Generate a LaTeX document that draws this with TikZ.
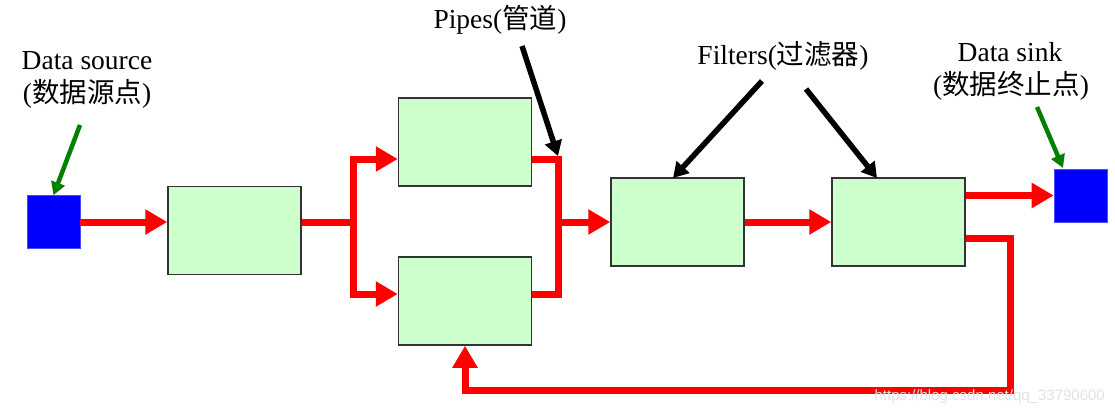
\documentclass[tikz,border=0pt]{standalone}
\usepackage{fontspec}
\setmainfont{Liberation Serif}
\newfontfamily\cjk{Noto Sans CJK SC}
\newfontfamily\wmfont{Liberation Sans}
\usetikzlibrary{arrows.meta}
\definecolor{boxfill}{HTML}{CCFFCC}
\definecolor{boxline}{HTML}{333333}
\definecolor{pipered}{HTML}{FF0000}
\definecolor{endblue}{HTML}{0000FF}
\definecolor{notegreen}{HTML}{007F00}
\definecolor{wmgray}{HTML}{E2E2E2}
\tikzset{
  filterbox/.style={draw=boxline, fill=boxfill, line width=1.5pt, minimum width=133pt, minimum height=88pt, inner sep=0pt},
  endpoint/.style={draw=endblue!70!white, fill=endblue, line width=0.6pt, minimum size=53pt, inner sep=0pt},
  pipeline/.style={draw=pipered, line width=7pt, line join=miter},
  pipe/.style={pipeline, -{Triangle[length=22pt,width=24pt]}},
  blackarrow/.style={draw=black, line width=5.5pt, -{Triangle[length=15pt,width=17pt]}},
  greenarrow/.style={draw=notegreen, line width=4.5pt, -{Triangle[length=13pt,width=14pt]}},
  label/.style={font=\fontsize{27.5}{30}\selectfont, inner sep=0pt, anchor=base},
}
\begin{document}
\begin{tikzpicture}[x=1pt,y=-1pt]
\useasboundingbox (0,0) rectangle (1115,413);

% endpoints and filters
\node[endpoint] (src) at (53.5,222) {};
\node[endpoint] (snk) at (1080.5,195.5) {};
\node[filterbox] (A) at (234.5,230.5) {};
\node[filterbox] (B) at (465,142) {};
\node[filterbox] (C) at (465,301) {};
\node[filterbox] (D) at (677.5,222) {};
\node[filterbox] (E) at (898.5,222) {};

% junction coordinates
\coordinate (j1) at (353,222);
\coordinate (jt) at (353,159);
\coordinate (jb) at (353,294);
\coordinate (m1) at (558,159);
\coordinate (m2) at (558,294);
\coordinate (m3) at (558,222);
\coordinate (f1) at (1010,238);
\coordinate (f2) at (1010,390);
\coordinate (f3) at (465,390);

% pipes
\draw[pipe] (src.east) -- (src.east -| A.west);
\draw[pipeline] (j1 -| A.east) -- (j1);
\draw[pipe] (j1) -- (jt) -- (jt -| B.west);
\draw[pipe] (j1) -- (jb) -- (jb -| C.west);
\draw[pipeline] (m1 -| B.east) -- (m1) -- (m2) -- (m2 -| C.east);
\draw[pipe] (m3) -- (m3 -| D.west);
\draw[pipe] (D) -- (E);
\draw[pipe] (snk.west -| E.east) -- (snk.west);
\draw[pipe] (f1 -| E.east) -- (f1) -- (f2) -- (f3) -- (f3 |- C.south);

% labels
\node[label] (srcl1) at (87,69) {Data source};
\node[label] (srcl2) at (87,102) {({\cjk 数据源点})};
\node[label] (pipel) at (500,28) {Pipes({\cjk 管道})};
\node[label] (filtl) at (783,64) {Filters({\cjk 过滤器})};
\node[label] (snkl1) at (1010,61) {Data sink};
\node[label] (snkl2) at (1011,94) {({\cjk 数据终止点})};

% annotation arrow start and end points
\coordinate (ps) at (522,46);
\coordinate (pe) at (558,156);
\coordinate (fs1) at (762,81);
\coordinate (fe1) at (673,178);
\coordinate (fs2) at (806,89);
\coordinate (fe2) at (877,178);
\coordinate (gs1) at (80,125);
\coordinate (gs2) at (1037,107);
\coordinate (ge2) at (1063,168);

\draw[blackarrow] (ps) -- (pe);
\draw[blackarrow] (fs1) -- (fe1);
\draw[blackarrow] (fs2) -- (fe2);
\draw[greenarrow] (gs1) -- (src.north);
\draw[greenarrow] (gs2) -- (ge2);

% watermark
\node[font=\wmfont\fontsize{15}{15}\selectfont, text=wmgray, inner sep=0pt, anchor=base east] (wm) at (1105,400) {https://blog.csdn.net/qq\_33790600};
\end{tikzpicture}
\end{document}
